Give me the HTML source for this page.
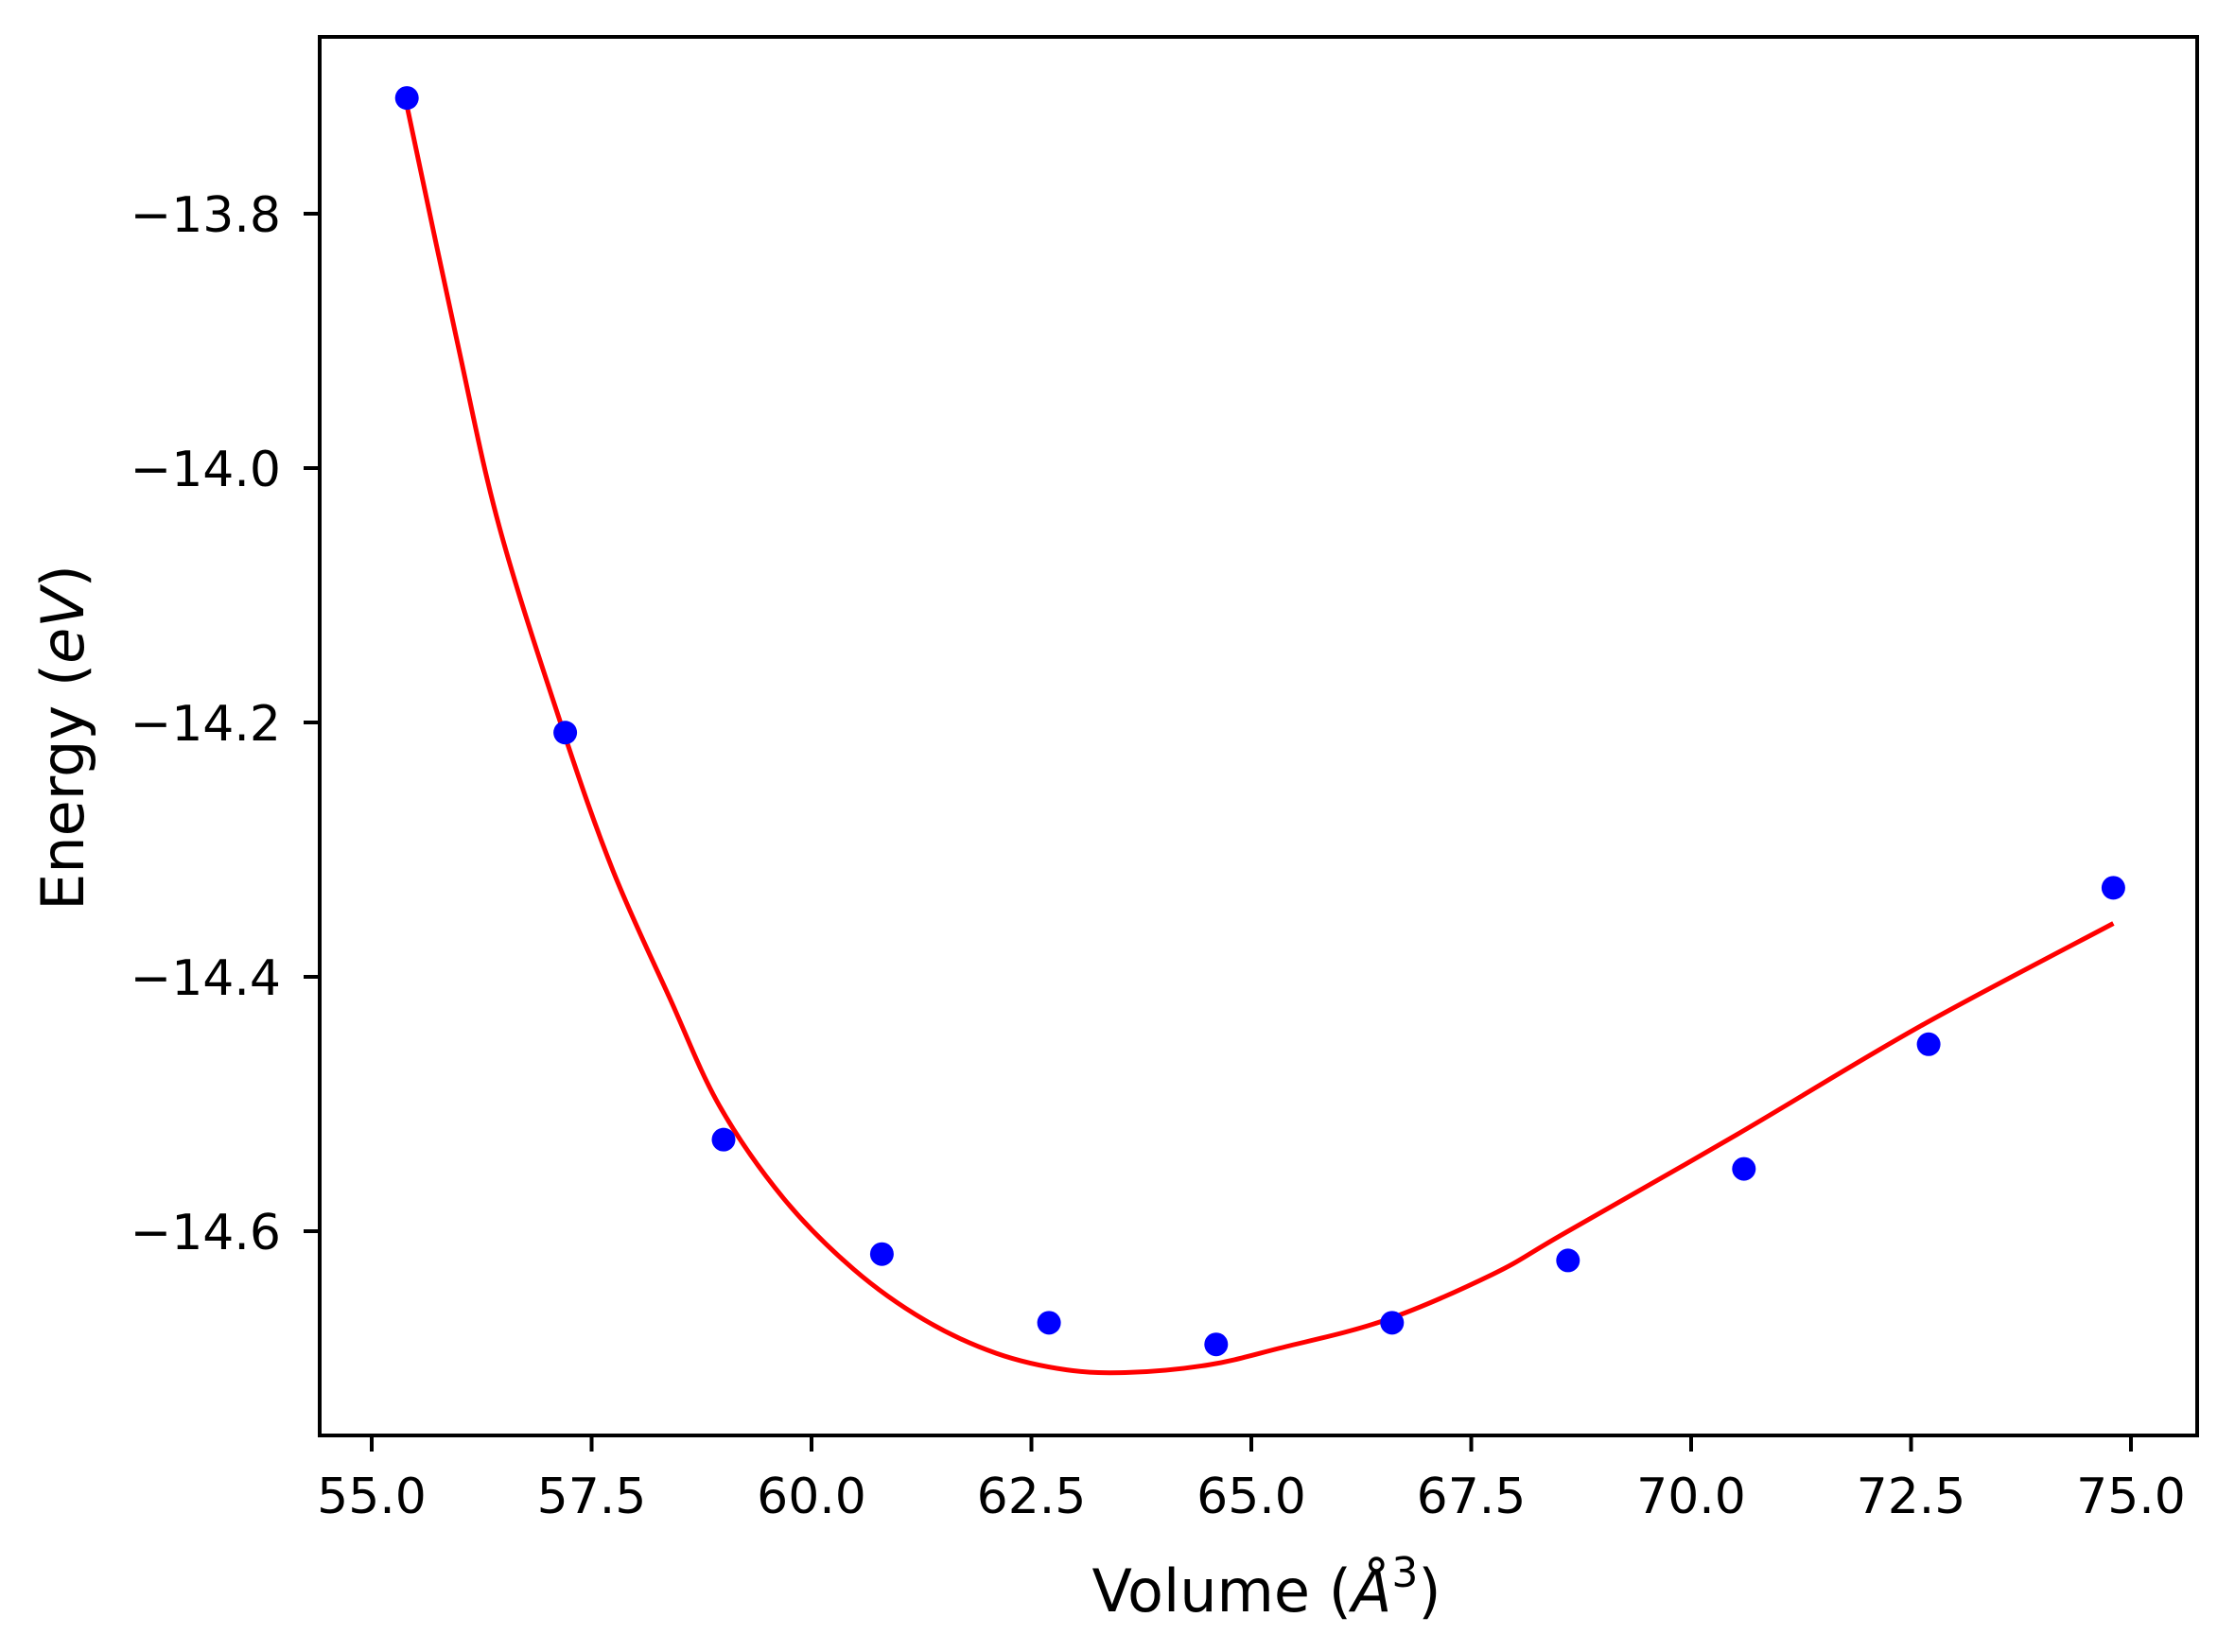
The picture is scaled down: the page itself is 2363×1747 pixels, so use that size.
<!DOCTYPE html>
<html><head><meta charset="utf-8"><style>
html,body{margin:0;padding:0;background:#fff;}
svg{display:block;font-family:"DejaVu Sans","Liberation Sans",sans-serif;}
</style></head><body>
<svg id="chart" width="2363" height="1747" viewBox="0 0 2363 1747">
<rect x="0" y="0" width="2363" height="1747" fill="#fff"/>
<g id="plot"></g>
<g id="axes"></g>
<text x="1339" y="1704" font-size="62" text-anchor="middle">Volume (<tspan font-style="italic">Å</tspan><tspan font-size="44" dy="-26">3</tspan><tspan dy="26">)</tspan></text>
<text transform="translate(88,780) rotate(-90)" font-size="62" text-anchor="middle">Energy (<tspan font-style="italic">eV</tspan>)</text>
</svg>
<script>
const xTicks = [55.0, 57.5, 60.0, 62.5, 65.0, 67.5, 70.0, 72.5, 75.0];
const xTickLabels = ["55.0","57.5","60.0","62.5","65.0","67.5","70.0","72.5","75.0"];
const yTicks = [-13.8, -14.0, -14.2, -14.4, -14.6];
const yTickLabels = ["\u221213.8","\u221214.0","\u221214.2","\u221214.4","\u221214.6"];
const volumes = [55.4, 57.2, 59.0, 60.8, 62.7, 64.6, 66.6, 68.6, 70.6, 72.7, 74.8];
const energies = [-13.709, -14.208, -14.528, -14.618, -14.672, -14.689, -14.672, -14.623, -14.551, -14.453, -14.330];
const fitV = [55.40, 55.97, 56.45, 57.16, 57.74, 58.39, 58.95, 59.68, 60.48, 61.29, 62.10, 62.90, 63.63, 64.52, 65.32, 66.52, 67.74, 68.55, 70.52, 72.60, 74.80];
const fitE = [-13.715, -13.900, -14.046, -14.203, -14.316, -14.417, -14.501, -14.574, -14.630, -14.670, -14.696, -14.709, -14.711, -14.705, -14.692, -14.670, -14.634, -14.602, -14.524, -14.439, -14.358];

const NS = "http://www.w3.org/2000/svg";
const L = 338, R = 2323, T = 39, B = 1518;
function xs(v){ return 393 + (v - 55) * 93.0; }
function ys(e){ return 226 + (-13.8 - e) * 1345; }
function mk(tag, attrs, parent){ const el = document.createElementNS(NS, tag); for (const k in attrs) el.setAttribute(k, attrs[k]); parent.appendChild(el); return el; }

const plot = document.getElementById('plot');
const axes = document.getElementById('axes');

// fit curve (Catmull-Rom smoothing)
const pts = fitV.map((v,i)=>[xs(v), ys(fitE[i])]);
let d = "M" + pts[0][0] + "," + pts[0][1];
for (let i=0;i<pts.length-1;i++){
  const p0 = pts[Math.max(0,i-1)], p1 = pts[i], p2 = pts[i+1], p3 = pts[Math.min(pts.length-1,i+2)];
  const c1x = p1[0] + (p2[0]-p0[0])/6, c1y = p1[1] + (p2[1]-p0[1])/6;
  const c2x = p2[0] - (p3[0]-p1[0])/6, c2y = p2[1] - (p3[1]-p1[1])/6;
  d += " C" + c1x + "," + c1y + " " + c2x + "," + c2y + " " + p2[0] + "," + p2[1];
}
const curve = mk('path', {d: d, fill: 'none', stroke: '#ff0000', 'stroke-width': 5}, plot);



volumes.forEach((v,i)=>{
  const c = mk('circle', {cx: xs(v), cy: ys(energies[i]), r: 12.5, fill: '#0000ff'}, plot);
  
  
});

const frame = mk('rect', {x: L, y: T, width: R-L, height: B-T, fill: 'none', stroke: '#000', 'stroke-width': 4}, axes);



xTicks.forEach((t,i)=>{
  const x = xs(t);
  const tk = mk('line', {x1: x, x2: x, y1: B, y2: B+17, stroke: '#000', 'stroke-width': 4}, axes);
  
  
  const tx = mk('text', {x: x, y: B+82, 'font-size': 52, 'text-anchor': 'middle'}, axes);
  tx.textContent = xTickLabels[i];
  
  
});
yTicks.forEach((t,i)=>{
  const y = ys(t);
  const tk = mk('line', {x1: L-17, x2: L, y1: y, y2: y, stroke: '#000', 'stroke-width': 4}, axes);
  
  
  const tx = mk('text', {x: 297, y: y+19, 'font-size': 52, 'text-anchor': 'end'}, axes);
  tx.textContent = yTickLabels[i];
  
  
});
</script>
</body></html>
